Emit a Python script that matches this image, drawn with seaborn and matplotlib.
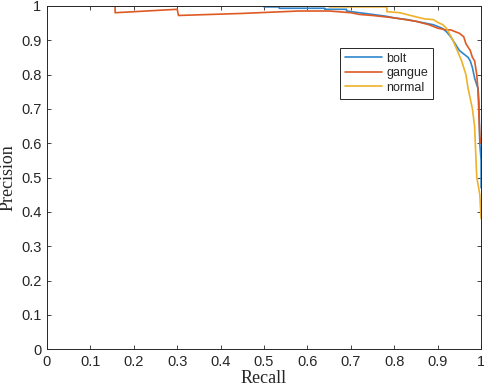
import numpy as np
import pandas as pd
import matplotlib
matplotlib.use("Agg")
import matplotlib.pyplot as plt
import seaborn as sns

bolt_recall = [0, 0.5, 0.5, 0.535, 0.535, 0.64, 0.64, 0.69, 0.69, 0.72, 0.75, 0.78, 0.8, 0.83, 0.85,
               0.87, 0.89, 0.9, 0.91, 0.92, 0.93, 0.94, 0.95, 0.96, 0.97, 0.975, 0.98, 0.985,
               0.99, 0.993, 0.995, 0.997, 1.0, 1.0]
bolt_precision = [1, 1, 0.997, 0.997, 0.993, 0.993, 0.99, 0.99, 0.985, 0.98, 0.975, 0.97, 0.965, 0.96,
                  0.955, 0.95, 0.945, 0.94, 0.935, 0.925, 0.91, 0.89, 0.87, 0.86, 0.85, 0.84, 0.82,
                  0.79, 0.77, 0.76, 0.72, 0.6, 0.55, 0.47]

gangue_recall = [0, 0.157, 0.157, 0.3, 0.303, 0.45, 0.58, 0.65, 0.7, 0.72, 0.75, 0.8, 0.85, 0.88,
                 0.9, 0.92, 0.93, 0.94, 0.95, 0.96, 0.965, 0.97, 0.975, 0.98, 0.985, 0.99, 0.993,
                 0.995, 0.997, 1.0]
gangue_precision = [1, 1, 0.98, 0.99, 0.972, 0.978, 0.985, 0.985, 0.98, 0.975, 0.972, 0.965, 0.955,
                    0.945, 0.935, 0.93, 0.93, 0.925, 0.92, 0.91, 0.89, 0.88, 0.87, 0.85, 0.84, 0.8,
                    0.75, 0.68, 0.62, 0.6]

normal_recall = [0, 0.65, 0.65, 0.783, 0.783, 0.813, 0.85, 0.87, 0.89, 0.9, 0.912, 0.92, 0.935,
                 0.945, 0.955, 0.965, 0.97, 0.975, 0.98, 0.985, 0.99, 0.993, 0.997, 1.0]
normal_precision = [1, 1, 0.997, 0.997, 0.983, 0.98, 0.968, 0.962, 0.96, 0.952, 0.945, 0.935, 0.9,
                    0.87, 0.84, 0.8, 0.76, 0.73, 0.7, 0.65, 0.5, 0.48, 0.45, 0.38]

classes = ["bolt", "gangue", "normal"]
colors = ["#2f86cc", "#de5a24", "#eeb22a"]
tick_vals = [round(0.1 * i, 1) for i in range(11)]
tick_labels = ["0", "0.1", "0.2", "0.3", "0.4", "0.5", "0.6", "0.7", "0.8", "0.9", "1"]

frames = []
for name, r, p in [("bolt", bolt_recall, bolt_precision),
                   ("gangue", gangue_recall, gangue_precision),
                   ("normal", normal_recall, normal_precision)]:
    d = pd.DataFrame({"Recall": r, "Precision": p})
    d["class"] = name
    frames.append(d)
df = pd.concat(frames, ignore_index=True)

sns.set_style("ticks")
plt.rcParams["font.family"] = ["Liberation Sans", "DejaVu Sans"]

fig = plt.figure(figsize=(4.84, 3.91), dpi=100)
ax = fig.add_axes([0.097, 0.107, 0.897, 0.878])

sns.lineplot(data=df, x="Recall", y="Precision", hue="class", hue_order=classes,
             palette=colors, sort=False, estimator=None, units="class", lw=1.2, ax=ax)

ax.set_xlim(0, 1)
ax.set_ylim(0, 1)
ax.set_xticks(tick_vals)
ax.set_xticklabels(tick_labels)
ax.set_yticks(tick_vals)
ax.set_yticklabels(tick_labels)
ax.tick_params(direction="in", top=True, right=True, length=3, width=0.6,
               labelsize=10.5, colors="#262626", pad=4)
for s in ax.spines.values():
    s.set_visible(True)
    s.set_color("#262626")
    s.set_linewidth(0.7)

ax.set_xlabel("Recall", family=["Liberation Serif", "DejaVu Serif"], fontsize=13, labelpad=1)
ax.set_ylabel("Precision", family=["Liberation Serif", "DejaVu Serif"], fontsize=13, labelpad=3)

leg = ax.legend(loc="upper left", bbox_to_anchor=(0.675, 0.878), fontsize=9,
                frameon=True, fancybox=False, framealpha=1, edgecolor="#262626",
                handlelength=3.0, handletextpad=0.3, borderpad=0.4, labelspacing=0.2,
                borderaxespad=0)
leg.get_frame().set_linewidth(0.7)

fig.savefig("out.png", dpi=100)
